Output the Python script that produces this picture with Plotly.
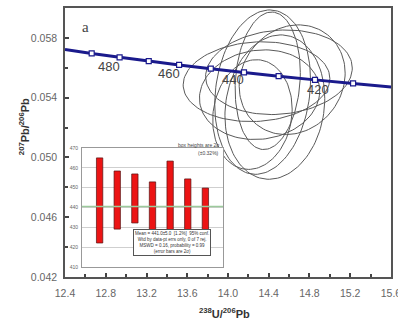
import numpy as np
import plotly.graph_objects as go

# ---------------- data ----------------
# Concordia (Tera-Wasserburg) points
conc_age = [500, 490, 480, 470, 460, 450, 440, 430, 420, 410, 400]
conc_x = [12.400, 12.662, 12.936, 13.222, 13.520, 13.831, 14.157, 14.497, 14.854, 15.228, 15.621]
conc_y = [0.05722, 0.05696, 0.05670, 0.05645, 0.05619, 0.05594, 0.05569, 0.05544, 0.05519, 0.05495, 0.05470]
marker_ages = [490, 480, 470, 460, 450, 440, 430, 420, 410]
label_ages = [480, 460, 440, 420]

# Error ellipses: centre, half-widths (2-sigma) and error correlation
ell_cx = [14.28, 14.50, 14.34, 14.39, 14.46, 14.24, 14.63, 14.31]
ell_cy = [0.05507, 0.05570, 0.05437, 0.05513, 0.05337, 0.05287, 0.05520, 0.05420]
ell_rx = [0.72, 0.72, 0.47, 0.32, 0.49, 0.39, 0.52, 0.59]
ell_ry = [0.00267, 0.00283, 0.00550, 0.00460, 0.00483, 0.00367, 0.00367, 0.00300]
ell_rho = [0.08, 0.10, 0.15, 0.12, 0.12, 0.10, 0.12, 0.08]

# Inset: weighted-mean age bars (Ma)
bar_idx = [1, 2, 3, 4, 5, 6, 7]
bar_low = [422.1, 429.1, 432.2, 427.7, 417.0, 422.6, 425.1]
bar_high = [465.0, 458.4, 456.9, 452.9, 463.4, 454.4, 449.8]
mean_age = 440.5
inset_ticks = [410, 420, 430, 440, 450, 460, 470]

x_ticks = [12.4, 12.8, 13.2, 13.6, 14.0, 14.4, 14.8, 15.2, 15.6]
y_ticks = [0.042, 0.046, 0.050, 0.054, 0.058]

# ---------------- figure ----------------
NAVY = "#1a1a8c"
fig = go.Figure()

# ellipses (outline from centre / errors / correlation)
t = np.linspace(0, 2 * np.pi, 121)
for cx, cy, rx, ry, rho in zip(ell_cx, ell_cy, ell_rx, ell_ry, ell_rho):
    ex = cx + rx * np.cos(t)
    ey = cy + ry * (rho * np.cos(t) + np.sqrt(1 - rho ** 2) * np.sin(t))
    fig.add_trace(go.Scatter(x=ex, y=ey, mode="lines",
                             line=dict(color="#5a5a5a", width=1),
                             hoverinfo="skip", showlegend=False))

# concordia
fig.add_trace(go.Scatter(x=conc_x, y=conc_y, mode="lines",
                         line=dict(color=NAVY, width=3, shape="spline"),
                         hoverinfo="skip", showlegend=False))
mx = [conc_x[conc_age.index(a)] for a in marker_ages]
my = [conc_y[conc_age.index(a)] for a in marker_ages]
fig.add_trace(go.Scatter(x=mx, y=my, mode="markers",
                         marker=dict(symbol="square", size=5, color="white",
                                     line=dict(color=NAVY, width=1.2)),
                         hoverinfo="skip", showlegend=False))

label_shift = {480: (-11, -9), 460: (-10, -9), 440: (-11, -7), 420: (3, -10)}
for a in label_ages:
    i = conc_age.index(a)
    dx, dy = label_shift[a]
    fig.add_annotation(x=conc_x[i], y=conc_y[i], xref="x", yref="y", text=str(a),
                       showarrow=False, xshift=dx, yshift=dy,
                       font=dict(size=13, color="#444", family="Liberation Sans"))

# inset white background (in inset subplot layer, covers main plot marks)
fig.add_shape(type="rect", xref="x2", yref="y2", layer="below",
              x0=0, x1=8, y0=min(inset_ticks), y1=max(inset_ticks),
              fillcolor="white", line=dict(width=0))

# inset bars
fig.add_trace(go.Bar(x=bar_idx, y=[h - l for l, h in zip(bar_low, bar_high)], base=bar_low,
                     xaxis="x2", yaxis="y2", width=0.36,
                     marker=dict(color="#ec1414", line=dict(color="#551111", width=0.7)),
                     hoverinfo="skip", showlegend=False))
fig.add_trace(go.Scatter(x=[0, 8], y=[mean_age, mean_age], mode="lines", xaxis="x2", yaxis="y2",
                         line=dict(color="#9cca9c", width=1.6), hoverinfo="skip", showlegend=False))

# inset text
fig.add_annotation(xref="paper", yref="paper", x=0.2086, y=0.0781,
                   text="Mean = 441.0±5.0  [1.2%]  95% conf.<br>Wtd by data-pt errs only, 0 of 7 rej.<br>"
                        "MSWD = 0.16, probability = 0.99<br>(error bars are 2σ)",
                   showarrow=False, align="center", bgcolor="white", bordercolor="#555",
                   borderwidth=1, borderpad=1,
                   font=dict(size=4.5, color="#333", family="Liberation Sans"))
fig.add_annotation(xref="paper", yref="paper", x=0.482, y=0.4907, xanchor="right",
                   text="box heights are 2σ", showarrow=False,
                   font=dict(size=5, color="#444", family="Liberation Sans"))
fig.add_annotation(xref="paper", yref="paper", x=0.478, y=0.461, xanchor="right",
                   text="(±0.32%)", showarrow=False,
                   font=dict(size=5, color="#444", family="Liberation Sans"))

# panel letter and axis titles
fig.add_annotation(xref="paper", yref="paper", x=0.046, y=0.9665, text="a", showarrow=False,
                   font=dict(size=15, color="#444", family="Liberation Serif"))
fig.add_annotation(xref="paper", yref="paper", x=-0.153, y=0.5576, textangle=-90,
                   text="<b><sup>207</sup>Pb/<sup>206</sup>Pb</b>", showarrow=False,
                   font=dict(size=11, color="#333", family="Liberation Sans"))
fig.add_annotation(xref="paper", yref="paper", x=0.488, y=-0.134, yanchor="middle",
                   text="<b><sup>238</sup>U/<sup>206</sup>Pb</b>", showarrow=False,
                   font=dict(size=11, color="#333", family="Liberation Sans"))

tickfont = dict(size=10.5, color="#666", family="Liberation Sans")
fig.update_layout(
    template="none",
    width=398, height=320,
    margin=dict(l=65, r=7, t=8, b=43, autoexpand=False),
    paper_bgcolor="white", plot_bgcolor="white",
    showlegend=False,
    font=dict(family="Liberation Sans"),
    xaxis=dict(range=[12.4, 15.6001], tickvals=x_ticks, ticktext=[f"{v:.1f}" for v in x_ticks],
               ticks="inside", ticklen=4, tickcolor="#444", tickwidth=1.5,
               minor=dict(ticks="inside", dtick=0.2, tick0=12.4, ticklen=3, tickcolor="#444",
                          showgrid=False),
               showgrid=False, zeroline=False, showline=True, mirror=True, automargin=False,
               linecolor="#555", linewidth=1.5, tickfont=tickfont, ticklabelstandoff=6,
               ticklabeloverflow="allow"),
    yaxis=dict(range=[0.042, 0.060], tickvals=y_ticks, ticktext=[f"{v:.3f}" for v in y_ticks],
               ticks="inside", ticklen=4, tickcolor="#444", tickwidth=1.5,
               minor=dict(ticks="inside", dtick=0.002, tick0=0.042, ticklen=3, tickcolor="#444",
                          showgrid=False),
               showgrid=False, zeroline=False, showline=True, mirror=True, automargin=False,
               linecolor="#555", linewidth=1.5, tickfont=tickfont, ticklabelstandoff=4),
    xaxis2=dict(domain=[0.0521, 0.4847], anchor="y2", range=[0, 8], showticklabels=False,
                ticks="", showgrid=False, zeroline=False, showline=True, mirror=True,
                automargin=False, linecolor="#999", linewidth=1),
    yaxis2=dict(domain=[0.0372, 0.4796], anchor="x2", range=[410, 470], tickvals=inset_ticks,
                ticks="", showgrid=True, gridcolor="#cfcfcf", gridwidth=0.8, zeroline=False,
                showline=True, mirror=True, linecolor="#999", linewidth=1, automargin=False,
                tickfont=dict(size=5, color="#666", family="Liberation Sans"), ticklabelstandoff=2),
)

fig.write_html("out.html")
